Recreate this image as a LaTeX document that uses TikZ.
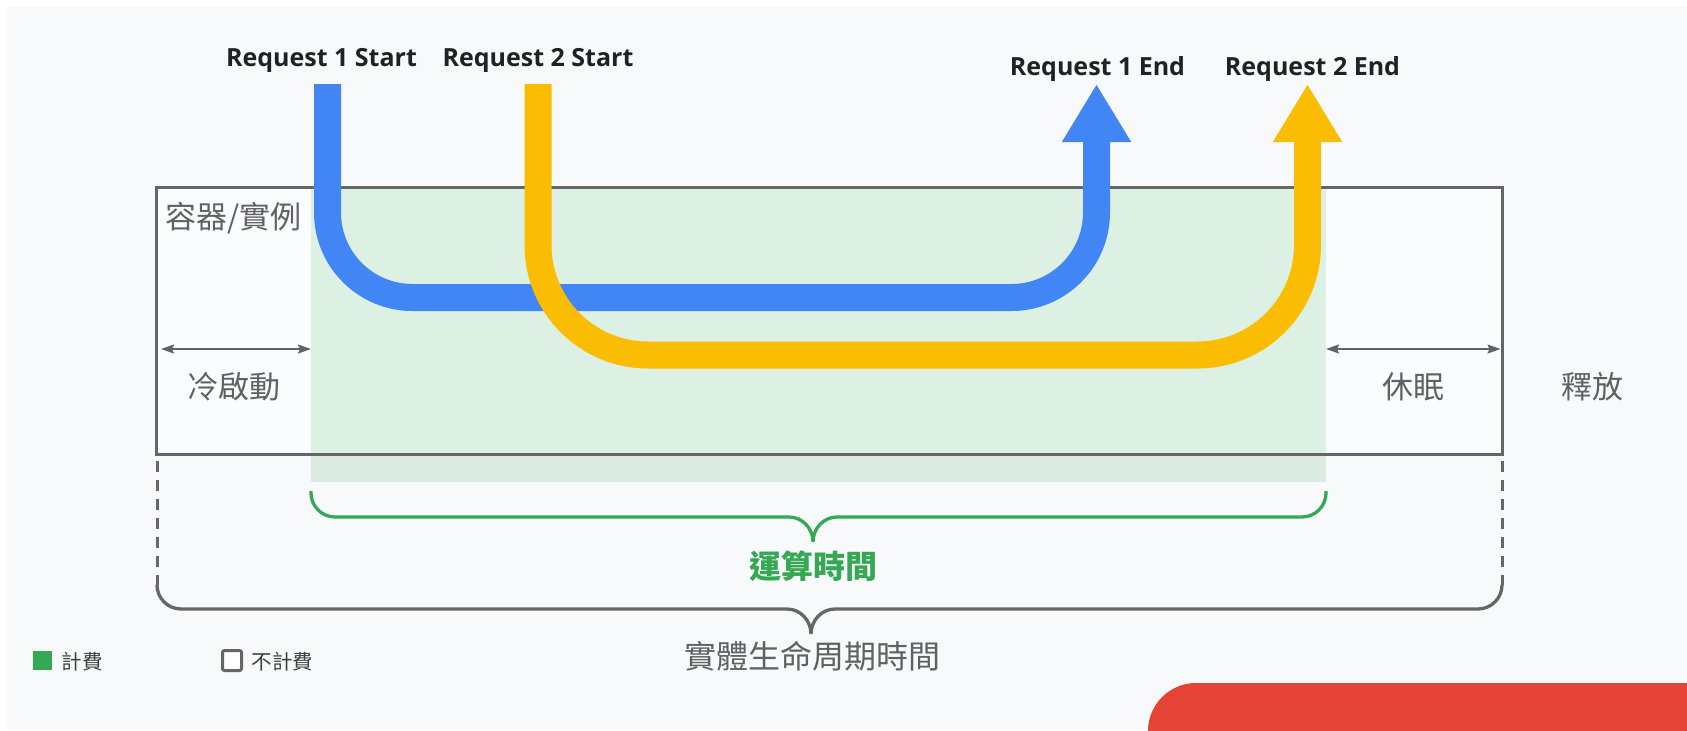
\documentclass[tikz,border=0pt]{standalone}
\usepackage{fontspec}
\setmainfont{Lato}
\newfontfamily\reqfont{Open Sans}
\newfontfamily\cjk{Noto Sans CJK TC}
\usetikzlibrary{arrows.meta}
\definecolor{bgc}{HTML}{F8F9FA}
\definecolor{boxfill}{HTML}{FAFDFE}
\definecolor{boxline}{HTML}{666666}
\definecolor{arrgray}{HTML}{5F6368}
\definecolor{labgray}{HTML}{616161}
\definecolor{darktext}{HTML}{202124}
\definecolor{legtext}{HTML}{3C4043}
\definecolor{reqblue}{HTML}{4285F4}
\definecolor{reqyellow}{HTML}{FBBC04}
\definecolor{gcpgreen}{HTML}{34A853}
\definecolor{gcpred}{HTML}{E44335}
\tikzset{
  reqlabel/.style={text=darktext, font=\reqfont\fontsize{25}{29}\selectfont\bfseries, inner sep=0pt, anchor=base},
  cjklabel/.style={text=labgray, font=\cjk\fontsize{31}{36}\selectfont, inner sep=0pt},
  reqpath/.style={line width=27pt, rounded corners=#1},
  reqtip/.style={-{Triangle[width=65pt,length=58pt]}},
  spanarrow/.style={draw=arrgray, line width=1.6pt, {Stealth[length=13pt,width=9pt,inset=2pt]}-{Stealth[length=13pt,width=9pt,inset=2pt]}},
  bracegray/.style={draw=boxline, line width=3.3pt},
  bracegreen/.style={draw=gcpgreen, line width=3.3pt},
  dashguide/.style={draw=boxline, line width=3pt, dash pattern=on 11pt off 8pt},
  legendtext/.style={text=legtext, font=\cjk\fontsize{20.5}{24}\selectfont, inner sep=0pt}
}
\begin{document}
\begin{tikzpicture}[x=1pt,y=-1pt]
\useasboundingbox (0,0) rectangle (1687,731);
\fill[white] (0,0) rectangle (1687,731);
\fill[bgc] (7,7) rectangle (1687,730);
% red decoration
\fill[gcpred] (1148,731) .. controls (1148,704.5) and (1169.5,683) .. (1196,683) -- (1687,683) -- (1687,731) -- cycle;

% container box
\fill[boxfill] (156,187.5) rectangle (1502,454.5);
\fill[gcpgreen, opacity=0.15] (311,187.5) rectangle (1326,482);
\node[draw=boxline, line width=3pt, minimum width=1346pt, minimum height=267pt, inner sep=0pt] (box) at (829,321) {};

% labels inside box
\node[cjklabel, anchor=west] (title) at (165.5,218.5) {容器/實例};
\node[cjklabel] (cold) at (233.5,386.5) {冷啟動};
\node[cjklabel] (sleep) at (1413.5,386.5) {休眠};
\node[cjklabel] (release) at (1592.5,386.5) {釋放};

% span arrows
\coordinate (cs1) at (161,349);
\coordinate (cs2) at (311,349);
\coordinate (sl1) at (1326,349);
\coordinate (sl2) at (1500.5,349);
\draw[spanarrow] (cs1) -- (cs2);
\draw[spanarrow] (sl1) -- (sl2);

% request labels
\node[reqlabel] (s1) at (321.5,66) {Request 1 Start};
\node[reqlabel] (s2) at (538,66) {Request 2 Start};
\node[reqlabel] (e1) at (1097.5,75) {Request 1 End};
\node[reqlabel] (e2) at (1312.5,75) {Request 2 End};

% request paths
\coordinate (b0) at (327.5,84);
\coordinate (b1) at (1096.5,84);
\coordinate (y0) at (538,84);
\coordinate (y1) at (1307.5,84);
\draw[reqpath=85pt, draw=reqblue, reqtip] (b0) |- (1096.5,297.5) -- (b1);
\draw[reqpath=110pt, draw=reqyellow, reqtip] (y0) |- (1307.5,355) -- (y1);

% dashed guides
\coordinate (dl0) at (157,461);
\coordinate (dl1) at (157,585);
\coordinate (dr0) at (1502,461);
\coordinate (dr1) at (1502,585);
\draw[dashguide] (dl0) -- (dl1);
\draw[dashguide] (dr0) -- (dr1);

% green brace (compute time)
\draw[bracegreen] (311,491) -- (311,493)
  .. controls (311,506.2) and (321.8,517) .. (335,517) -- (789,517)
  .. controls (802.2,517) and (813,528.2) .. (813,542)
  .. controls (813,528.2) and (823.8,517) .. (837,517) -- (1302,517)
  .. controls (1315.2,517) and (1326,506.2) .. (1326,493) -- (1326,491);
\node[text=gcpgreen, font=\cjk\fontsize{32}{36}\selectfont\bfseries, inner sep=0pt] (compute) at (813,566.5) {運算時間};

% gray brace (instance lifetime)
\draw[bracegray] (dl1)
  .. controls (157,598.2) and (167.8,609) .. (181,609) -- (787,609)
  .. controls (800.2,609) and (811,620.2) .. (811,634)
  .. controls (811,620.2) and (821.8,609) .. (835,609) -- (1478,609)
  .. controls (1491.2,609) and (1502,598.2) .. (dr1);
\node[cjklabel, font=\cjk\fontsize{32}{36}\selectfont] (lifetime) at (812.5,656.5) {實體生命周期時間};

% legend
\fill[gcpgreen] (33,651) rectangle (52,670);
\node[legendtext, anchor=west] (billed) at (61.5,661.5) {計費};
\draw[boxline, fill=white, line width=3pt, rounded corners=2pt] (222.5,650.5) rectangle (241.5,670.5);
\node[legendtext, anchor=west] (unbilled) at (251.5,661.5) {不計費};
\end{tikzpicture}
\end{document}
